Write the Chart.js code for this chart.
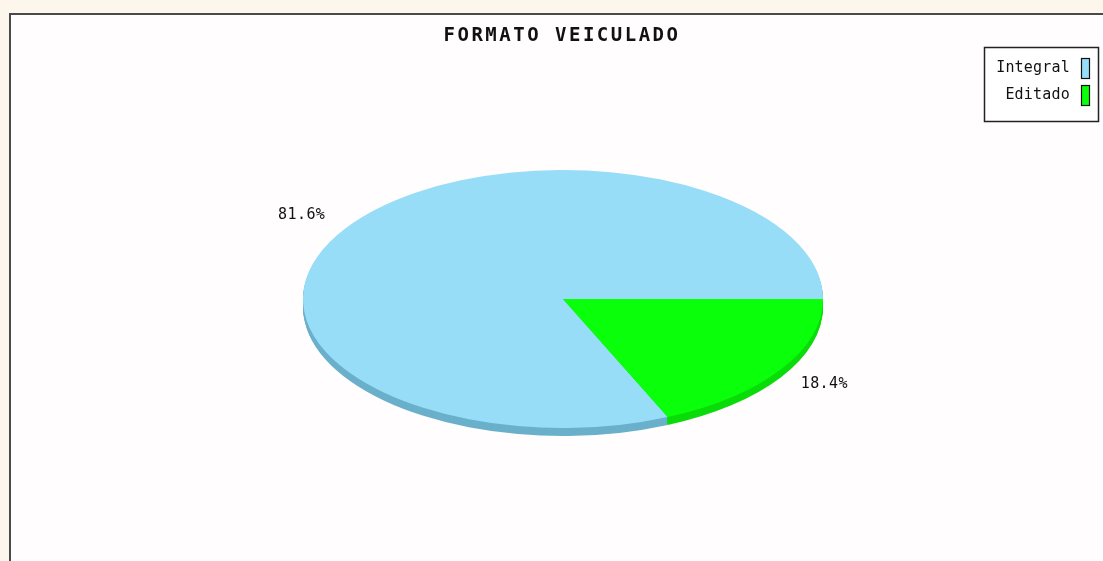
<!DOCTYPE html>
<html>
<head>
<meta charset="utf-8">
<script src="https://cdn.jsdelivr.net/npm/chart.js@4"></script>
<style>
html,body{margin:0;padding:0;background:#fdf6ec;}
#wrap{width:1103px;height:561px;position:relative;}
canvas{display:block;}
</style>
</head>
<body>
<div id="wrap"><canvas id="c" width="1103" height="561"></canvas></div>
<script>
const titleText = "FORMATO VEICULADO";
const categories = ["Integral", "Editado"];
const values = [81.6, 18.4];
const pctLabels = ["81.6%", "18.4%"];
const topColors = ["#97DDF8", "#0AFF0A"];
const sideColors = ["#6AB0CB", "#0ADC0A"];

const CX = 563, CY = 299, RX = 260, RY = 129, DEPTH = 8;
const SY = RY / RX;
const MONO = '"DejaVu Sans Mono", "Liberation Mono", monospace';

const framePlugin = {
  id: 'frame',
  beforeDraw(chart) {
    const ctx = chart.ctx;
    ctx.save();
    ctx.fillStyle = '#fdf6ec';
    ctx.fillRect(0, 0, chart.width, chart.height);
    ctx.fillStyle = '#fffdfd';
    ctx.fillRect(10, 14, chart.width - 10, chart.height - 14);
    ctx.strokeStyle = '#4a4a4a';
    ctx.lineWidth = 2;
    ctx.beginPath();
    ctx.moveTo(10, chart.height + 2);
    ctx.lineTo(10, 14);
    ctx.lineTo(chart.width + 2, 14);
    ctx.stroke();
    // title
    ctx.fillStyle = '#111';
    ctx.font = 'bold 19px ' + MONO;
    ctx.letterSpacing = '2.5px';
    ctx.textAlign = 'center';
    ctx.textBaseline = 'middle';
    ctx.fillText(titleText, 562, 36);
    ctx.restore();
  }
};

const ellipsePlugin = {
  id: 'ellipse',
  beforeDatasetsDraw(chart) {
    const ctx = chart.ctx;
    const meta = chart.getDatasetMeta(0);
    for (let d = DEPTH; d >= 1; d--) {
      ctx.save();
      ctx.translate(0, CY + d);
      ctx.scale(1, SY);
      ctx.translate(0, -CY);
      meta.data.forEach((arc, i) => {
        const p = arc.getProps(['x', 'y', 'startAngle', 'endAngle', 'outerRadius'], true);
        ctx.fillStyle = sideColors[i];
        ctx.beginPath();
        ctx.moveTo(p.x, p.y);
        ctx.arc(p.x, p.y, p.outerRadius, p.startAngle, p.endAngle);
        ctx.closePath();
        ctx.fill();
      });
      ctx.restore();
    }
    ctx.save();
    ctx.translate(0, CY);
    ctx.scale(1, SY);
    ctx.translate(0, -CY);
  },
  afterDatasetsDraw(chart) {
    const ctx = chart.ctx;
    ctx.restore();
    const meta = chart.getDatasetMeta(0);
    ctx.save();
    ctx.fillStyle = '#111';
    ctx.font = '15px ' + MONO;
    ctx.letterSpacing = '0.4px';
    ctx.textAlign = 'center';
    ctx.textBaseline = 'middle';
    meta.data.forEach((arc, i) => {
      const p = arc.getProps(['x', 'y', 'startAngle', 'endAngle', 'outerRadius'], true);
      const mid = (p.startAngle + p.endAngle) / 2;
      const lx = p.x + Math.cos(mid) * p.outerRadius * 1.2;
      const ly = CY + Math.sin(mid) * p.outerRadius * 1.2 * SY;
      ctx.fillText(pctLabels[i], lx, ly + 1);
    });
    // legend
    ctx.fillStyle = '#ffffff';
    ctx.fillRect(984, 47, 115, 74);
    ctx.strokeStyle = '#222';
    ctx.lineWidth = 1.5;
    ctx.strokeRect(984.5, 47.5, 114, 74);
    ctx.textAlign = 'right';
    ctx.font = '15px ' + MONO;
    ctx.letterSpacing = '0.2px';
    const rows = [68, 95];
    categories.forEach((c, i) => {
      ctx.fillStyle = '#111';
      ctx.fillText(c, 1070, rows[i]);
      ctx.fillStyle = topColors[i];
      ctx.fillRect(1081, rows[i] - 10, 9, 21);
      ctx.strokeStyle = '#111';
      ctx.lineWidth = 1.2;
      ctx.strokeRect(1081.5, rows[i] - 9.5, 8, 20);
    });
    ctx.restore();
  }
};

new Chart(document.getElementById('c'), {
  type: 'pie',
  data: {
    labels: categories,
    datasets: [{
      data: values,
      backgroundColor: topColors,
      borderWidth: 0,
      hoverOffset: 0
    }]
  },
  options: {
    responsive: false,
    animation: false,
    rotation: 90 + values[1] / 100 * 360,
    layout: { padding: { left: CX - RX, right: 1103 - (CX + RX), top: CY - RX, bottom: 561 - (CY + RX) } },
    plugins: {
      legend: { display: false },
      title: { display: false },
      tooltip: { enabled: false }
    },
    events: []
  },
  plugins: [framePlugin, ellipsePlugin]
});
</script>
</body>
</html>
